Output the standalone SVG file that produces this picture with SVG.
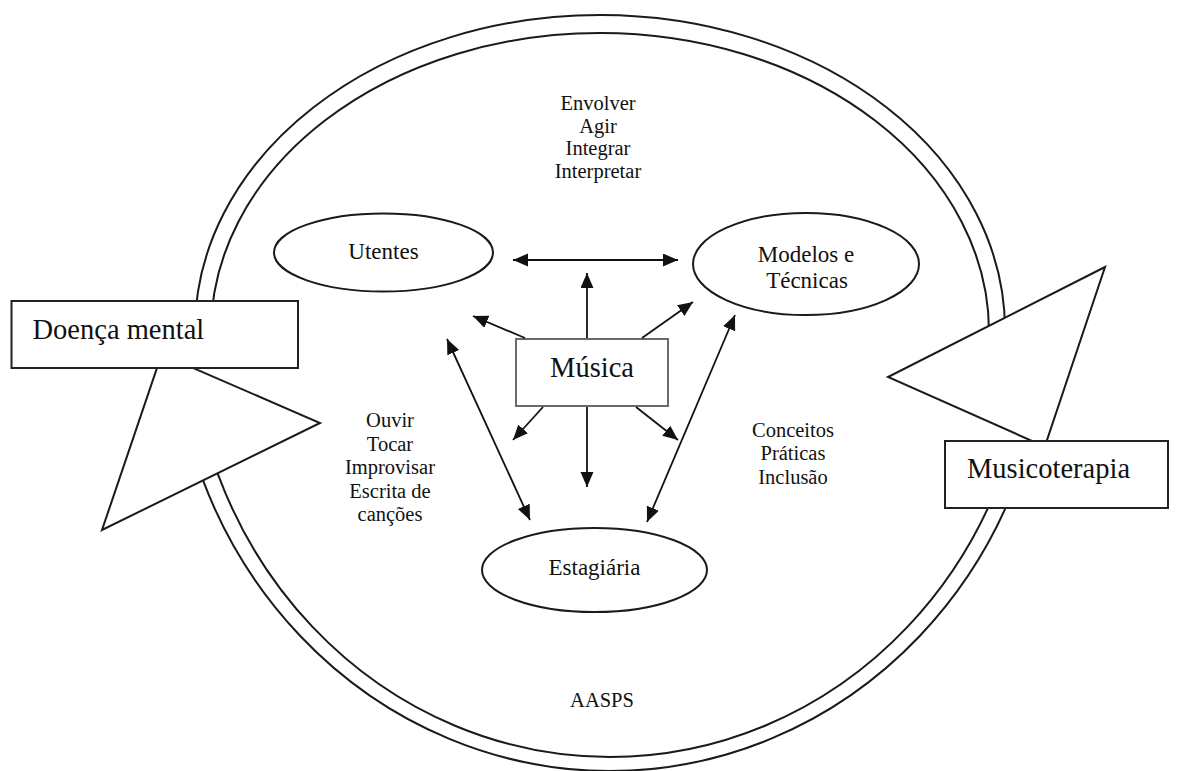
<svg xmlns="http://www.w3.org/2000/svg" width="1181" height="771" viewBox="0 0 1181 771">
  <style>
    .bg { fill: #ffffff; }
    .arc { fill: none; stroke: #1a1a1a; stroke-width: 2; }
    .head { fill: #ffffff; stroke: #1a1a1a; stroke-width: 2; stroke-linejoin: miter; }
    .box { fill: #ffffff; stroke: #222222; stroke-width: 2; }
    .mbox { fill: #ffffff; stroke: #6a6a6a; stroke-width: 2; }
    .ell { fill: #ffffff; stroke: #1a1a1a; stroke-width: 2; }
    .conn { fill: none; stroke: #111111; stroke-width: 1.8; }
    text { font-family: "Liberation Serif", "Times New Roman", serif; fill: #111111; text-anchor: middle; }
    .big { font-size: 28.5px; }
    .mid { font-size: 23px; }
    .small { font-size: 20.5px; }
    .left { text-anchor: start; }
  </style>
  <defs>
    <marker id="ah" markerUnits="userSpaceOnUse" markerWidth="16" markerHeight="14" refX="15" refY="6.5" orient="auto-start-reverse">
      <path d="M0,0 L15,6.5 L0,13 z" fill="#111111"/>
    </marker>
    <clipPath id="clipTop">
      <polygon points="0,0 1181,0 1181,228 888,377 0,360"/>
    </clipPath>
    <clipPath id="clipBottom">
      <polygon points="1181,460 320,423 102,530 0,580 0,800 1181,800"/>
    </clipPath>
  </defs>
  <rect class="bg" x="0" y="0" width="1181" height="771"/>

  <g id="cycle">
    <g clip-path="url(#clipTop)">
      <ellipse class="arc" cx="600" cy="330" rx="405" ry="315"/>
      <ellipse class="arc" cx="600" cy="332" rx="389" ry="299"/>
    </g>
    <g clip-path="url(#clipBottom)">
      <ellipse class="arc" cx="610" cy="310" rx="438" ry="461"/>
      <ellipse class="arc" cx="610" cy="312" rx="421" ry="445"/>
    </g>
    <polygon class="head" points="161.6,354.4 102,530 320,423"/>
    <polygon class="head" points="1105,267 888,377 1044.8,446.6"/>
  </g>

  <g id="doenca-mental">
    <rect class="box" x="11.5" y="301" width="286.5" height="67"/>
    <text class="big left" x="32.5" y="339">Doença mental</text>
  </g>

  <g id="musicoterapia">
    <rect class="box" x="945" y="441" width="223" height="67"/>
    <text class="big left" x="967" y="478">Musicoterapia</text>
  </g>

  <g id="utentes">
    <ellipse class="ell" cx="383.5" cy="252.5" rx="109.5" ry="39"/>
    <text class="mid" x="383.5" y="259">Utentes</text>
  </g>

  <g id="modelos">
    <ellipse class="ell" cx="806" cy="264" rx="113" ry="51"/>
    <text class="mid" x="806" y="262">Modelos e</text>
    <text class="mid" x="807" y="288">Técnicas</text>
  </g>

  <g id="estagiaria">
    <ellipse class="ell" cx="594.5" cy="570" rx="112.5" ry="42"/>
    <text class="mid" x="594.5" y="575">Estagiária</text>
  </g>

  <g id="musica">
    <rect class="mbox" x="516" y="339" width="152" height="67"/>
    <text class="big" x="592" y="377">Música</text>
  </g>

  <g id="connectors">
    <line class="conn" x1="513" y1="260" x2="678" y2="260" marker-start="url(#ah)" marker-end="url(#ah)"/>
    <line class="conn" x1="587" y1="338" x2="587" y2="273" marker-end="url(#ah)"/>
    <line class="conn" x1="525" y1="338" x2="473" y2="316" marker-end="url(#ah)"/>
    <line class="conn" x1="642" y1="338" x2="693" y2="302" marker-end="url(#ah)"/>
    <line class="conn" x1="543" y1="407" x2="513" y2="440" marker-end="url(#ah)"/>
    <line class="conn" x1="587" y1="407" x2="587" y2="487" marker-end="url(#ah)"/>
    <line class="conn" x1="636" y1="407" x2="678" y2="440" marker-end="url(#ah)"/>
    <line class="conn" x1="447" y1="339" x2="530" y2="520" marker-start="url(#ah)" marker-end="url(#ah)"/>
    <line class="conn" x1="735" y1="315" x2="647" y2="522" marker-start="url(#ah)" marker-end="url(#ah)"/>
  </g>

  <g id="labels">
    <text class="small" x="598" y="110">Envolver</text>
    <text class="small" x="598" y="133">Agir</text>
    <text class="small" x="598" y="155">Integrar</text>
    <text class="small" x="598" y="178">Interpretar</text>

    <text class="small" x="390" y="427">Ouvir</text>
    <text class="small" x="390" y="451">Tocar</text>
    <text class="small" x="390" y="474">Improvisar</text>
    <text class="small" x="390" y="498">Escrita de</text>
    <text class="small" x="390" y="521">canções</text>

    <text class="small" x="793" y="437">Conceitos</text>
    <text class="small" x="793" y="460">Práticas</text>
    <text class="small" x="793" y="484">Inclusão</text>

    <text class="small" x="602" y="707">AASPS</text>
  </g>
</svg>
